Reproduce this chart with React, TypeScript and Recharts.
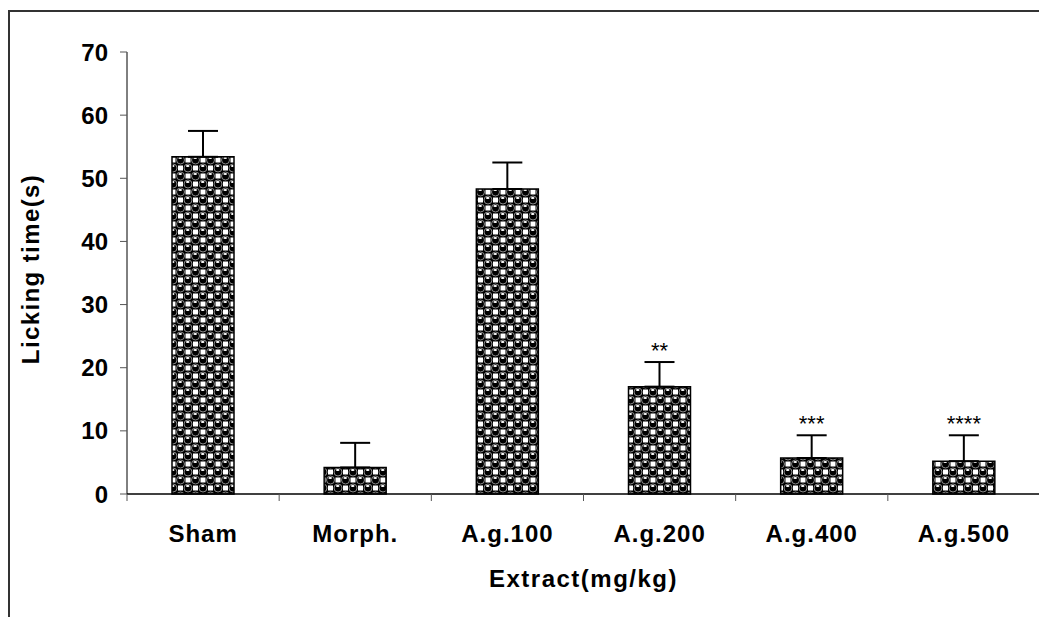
import React from 'react';
import { BarChart, Bar, XAxis, YAxis, ErrorBar, LabelList } from 'recharts';

const groups = ['Sham', 'Morph.', 'A.g.100', 'A.g.200', 'A.g.400', 'A.g.500'];
const means = [53.4, 4.2, 48.3, 17.0, 5.7, 5.2];
const sems = [4.1, 3.9, 4.2, 3.9, 3.6, 4.1];
const marks = ['', '', '', '**', '***', '****'];
const yTicks = [0, 10, 20, 30, 40, 50, 60, 70];

const data = groups.map((g, i) => ({
    group: g,
    mean: means[i],
    err: [0, sems[i]],
    mark: marks[i],
}));

const FONT = '"Liberation Sans", Arial, sans-serif';

function XTick(props: any) {
    const { x, y, payload, index, visibleTicksCount } = props;
    const half = payload?.offset ?? 76;
    const last = index === visibleTicksCount - 1;
    return (
        <g>
            <line x1={x - half} y1={y} x2={x - half} y2={y + 7} stroke="#555" strokeWidth={1} />
            {last && <line x1={x + half} y1={y} x2={x + half} y2={y + 7} stroke="#555" strokeWidth={1} />}
            <text
                x={x}
                y={y + 48}
                textAnchor="middle"
                fontFamily={FONT}
                fontWeight="bold"
                fontSize={24}
                letterSpacing={1}
                fill="#000"
            >
                {payload.value}
            </text>
        </g>
    );
}

function Stars(props: any) {
    const { x, y, width, height, value, index } = props;
    if (!value) return null;
    const v = means[index];
    const top = y - (height / v) * sems[index];
    return (
        <text
            x={x + width / 2}
            y={top - 4}
            textAnchor="middle"
            fontFamily={FONT}
            fontSize={22}
            fill="#000"
        >
            {value}
        </text>
    );
}

// ball lattice: corners + centre of a 15x16 cell
const balls = [
    [0, 0],
    [15, 0],
    [0, 16],
    [15, 16],
    [7.5, 8],
];

export default function App() {
    return (
        <div style={{ position: 'relative', width: 1039, height: 609, overflow: 'hidden', background: '#fff' }}>
            <svg width={0} height={0} style={{ position: 'absolute' }}>
                <defs>
                    <pattern id="balls" width={15} height={16} patternUnits="userSpaceOnUse">
                        <rect width={15} height={16} fill="#000" />
                        <rect x={5} y={-2.5} width={5} height={5} fill="#fff" />
                        <rect x={5} y={13.5} width={5} height={5} fill="#fff" />
                        <rect x={-2.5} y={5.5} width={5} height={5} fill="#fff" />
                        <rect x={12.5} y={5.5} width={5} height={5} fill="#fff" />
                        {balls.map(([cx, cy], i) => (
                            <g key={i}>
                                <circle cx={cx} cy={cy} r={4} fill="#000" stroke="#aaa" strokeWidth={0.8} />
                                <ellipse cx={cx - 0.3} cy={cy - 2} rx={1.8} ry={0.9} fill="#fff" />
                            </g>
                        ))}
                    </pattern>
                </defs>
            </svg>
            <div
                style={{
                    position: 'absolute',
                    left: 0,
                    top: 2,
                    width: 1200,
                    height: 800,
                    borderLeft: '2px solid #333',
                    borderTop: '2px solid #333',
                }}
            />
            <div style={{ position: 'absolute', left: 0, top: 0 }}>
                <BarChart
                    width={1039}
                    height={609}
                    data={data}
                    margin={{ top: 44, right: 7, bottom: 23, left: 0 }}
                    barSize={62}
                >
                    <XAxis
                        dataKey="group"
                        height={100}
                        axisLine={{ stroke: '#000', strokeWidth: 1.5 }}
                        tickLine={false}
                        tickSize={0}
                        tickMargin={0}
                        interval={0}
                        tick={<XTick />}
                        label={(p: any) => {
                            const vb = p.viewBox;
                            return (
                                <text
                                    x={vb.x + vb.width / 2}
                                    y={vb.y + 93}
                                    textAnchor="middle"
                                    fontFamily={FONT}
                                    fontWeight="bold"
                                    fontSize={24}
                                    letterSpacing={1.5}
                                    fill="#000"
                                >
                                    Extract(mg/kg)
                                </text>
                            );
                        }}
                    />
                    <YAxis
                        width={119}
                        domain={[0, 70]}
                        ticks={yTicks}
                        interval={0}
                        axisLine={{ stroke: '#000', strokeWidth: 1 }}
                        tickLine={{ stroke: '#555' }}
                        tickSize={7}
                        tickMargin={12}
                        tick={{ fontFamily: FONT, fontWeight: 'bold', fontSize: 24, fill: '#000' }}
                        label={(p: any) => {
                            const vb = p.viewBox;
                            const cx = vb.x + 22;
                            const cy = vb.y + vb.height / 2 - 4;
                            return (
                                <text
                                    x={cx}
                                    y={cy}
                                    transform={`rotate(-90 ${cx} ${cy})`}
                                    textAnchor="middle"
                                    dominantBaseline="central"
                                    fontFamily={FONT}
                                    fontWeight="bold"
                                    fontSize={24}
                                    letterSpacing={1.4}
                                    fill="#000"
                                >
                                    Licking time(s)
                                </text>
                            );
                        }}
                    />
                    <Bar
                        dataKey="mean"
                        fill="url(#balls)"
                        stroke="#000"
                        strokeWidth={1.5}
                        isAnimationActive={false}
                    >
                        <ErrorBar dataKey="err" width={15} stroke="#000" strokeWidth={2} direction="y" />
                        <LabelList dataKey="mark" content={<Stars />} />
                    </Bar>
                </BarChart>
            </div>
        </div>
    );
}
